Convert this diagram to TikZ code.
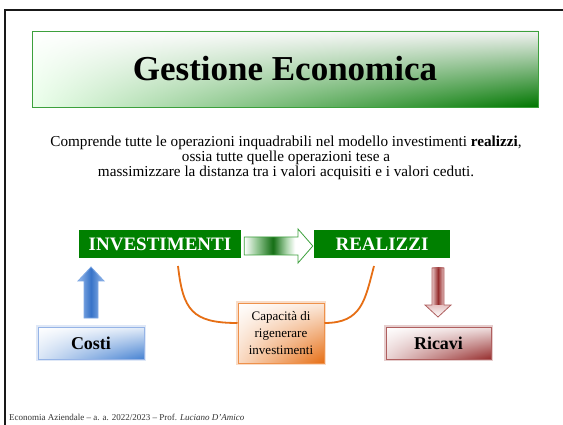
\documentclass[tikz,border=0pt]{standalone}
\usepackage{fontspec}
\setmainfont{Liberation Serif}
\usetikzlibrary{calc,shadings}
\definecolor{dgreen}{RGB}{0,128,0}
\definecolor{tgreen}{RGB}{0,118,0}
\definecolor{tborder}{RGB}{60,160,60}
\definecolor{ablue}{RGB}{70,130,210}
\definecolor{lblue}{RGB}{150,185,235}
\definecolor{bblue}{RGB}{150,180,230}
\definecolor{dblue}{RGB}{55,115,200}
\definecolor{dred}{RGB}{150,45,45}
\definecolor{bred}{RGB}{175,95,95}
\definecolor{lred}{RGB}{230,195,195}
\definecolor{orng}{RGB}{230,110,20}
\definecolor{borng}{RGB}{238,145,75}
\definecolor{frame}{RGB}{25,25,25}
\definecolor{garrowA}{RGB}{150,200,150}
\definecolor{garrowB}{RGB}{20,110,20}
\definecolor{garrowC}{RGB}{175,215,175}
\pgfdeclarehorizontalshading{greenarrowshade}{100bp}{color(0bp)=(white); color(25bp)=(white); color(34bp)=(garrowA); color(46bp)=(garrowB); color(56bp)=(garrowC); color(62bp)=(white); color(100bp)=(white)}
\tikzset{
  titlebox/.style={draw=tborder, line width=0.8pt, minimum width=506pt, minimum height=76pt,
     upper left=white, upper right=black!5, lower left=white!92!green, lower right=tgreen,
     font=\fontsize{35}{40}\selectfont\bfseries, inner sep=0pt},
  greenbox/.style={fill=dgreen, text=white, minimum height=28pt, inner sep=0pt,
     font=\fontsize{19}{22}\selectfont\bfseries},
  costibox/.style={draw=bblue, line width=0.8pt, minimum width=106pt, minimum height=32pt,
     upper left=white, upper right=white!85!ablue, lower left=white!80!ablue, lower right=ablue,
     font=\fontsize{18}{20}\selectfont\bfseries, inner sep=0pt},
  ricavibox/.style={draw=bred, line width=0.8pt, minimum width=105pt, minimum height=32pt,
     upper left=white, upper right=white!85!dred, lower left=white!80!dred, lower right=dred,
     font=\fontsize{18}{20}\selectfont\bfseries, inner sep=0pt},
  capbox/.style={draw=borng, line width=1pt, minimum width=86pt, minimum height=60pt,
     upper left=white, upper right=white!85!orng, lower left=white!75!orng, lower right=orng,
     align=center, font=\fontsize{13}{17}\selectfont, inner sep=0pt},
  softglow/.style={draw=#1, line width=3.5pt, opacity=0.3},
  bodytext/.style={align=center, font=\fontsize{15.2}{15}\selectfont, inner sep=0pt},
  orangeline/.style={draw=orng, line width=1.8pt},
  footer/.style={anchor=base west, font=\fontsize{9}{10}\selectfont, text=black!80, inner sep=0pt}
}
\begin{document}
\begin{tikzpicture}[x=1pt,y=-1pt]
\useasboundingbox (0,0) rectangle (563,425);
\fill[white] (0,0) rectangle (563,425);
\draw[line width=2pt, frame] (5,426) -- (5,10) -- (564,10);

% title
\node[titlebox] (title) at (285,69) {Gestione Economica};

% description
\node[bodytext] (desc) at (286,158) {Comprende tutte le operazioni inquadrabili nel modello investimenti \textbf{realizzi},\\
ossia tutte quelle operazioni tese a\\
massimizzare la distanza tra i valori acquisiti e i valori ceduti.};

% main boxes
\node[greenbox, minimum width=162pt] (inv) at (160,244) {INVESTIMENTI};
\node[greenbox, minimum width=136pt] (real) at (382,244) {REALIZZI};

% middle arrow
\path[draw=tborder, line width=0.8pt, shading=greenarrowshade]
  ($(inv.east)+(3,-7)$) -- (298,237) -- (298,229) -- ($(real.west)+(-1,2)$) -- (298,263) -- (298,255) -- ($(inv.east)+(3,11)$) -- cycle;

% bottom boxes
\draw[softglow=bblue] (38,327) rectangle (144,359);
\node[costibox] (costi) at (91,343) {Costi};
\draw[softglow=bred] (386,327) rectangle (491,359);
\node[ricavibox] (ricavi) at (438.5,343) {Ricavi};

% blue up arrow
\path[draw=lblue!70!ablue, line width=0.8pt, left color=lblue, right color=lblue, middle color=dblue]
  (84,318) -- (84,281) -- (78,281) -- (91,267) -- (104,281) -- (98,281) -- (98,318) -- cycle;

% red down arrow
\path[left color=lred, right color=lred, middle color=dred]
  (432,268) rectangle (444,305);
\path[top color=lred, bottom color=white]
  (425,305) -- (451,305) -- (438,317) -- cycle;
\draw[bred, line width=0.8pt]
  (432,268) -- (444,268) -- (444,305) -- (451,305) -- (438,317) -- (425,305) -- (432,305) -- cycle;

% capacity box
\draw[softglow=borng] (238,303) rectangle (324,363);
\node[capbox] (cap) at (281,333) {Capacità di\\rigenerare\\investimenti};

% orange connectors
\coordinate (l1) at (178,266);
\coordinate (r1) at (374,266);
\draw[orangeline] (l1) .. controls (183,310) and (192,323) .. ([yshift=10pt]cap.west);
\draw[orangeline] ([yshift=10pt]cap.east) .. controls (362,323) and (365,300) .. (r1);

% footer
\node[footer] (foot) at (9,420) {Economia Aziendale – a. a. 2022/2023 – Prof. \textit{Luciano D’Amico}};
\end{tikzpicture}
\end{document}
